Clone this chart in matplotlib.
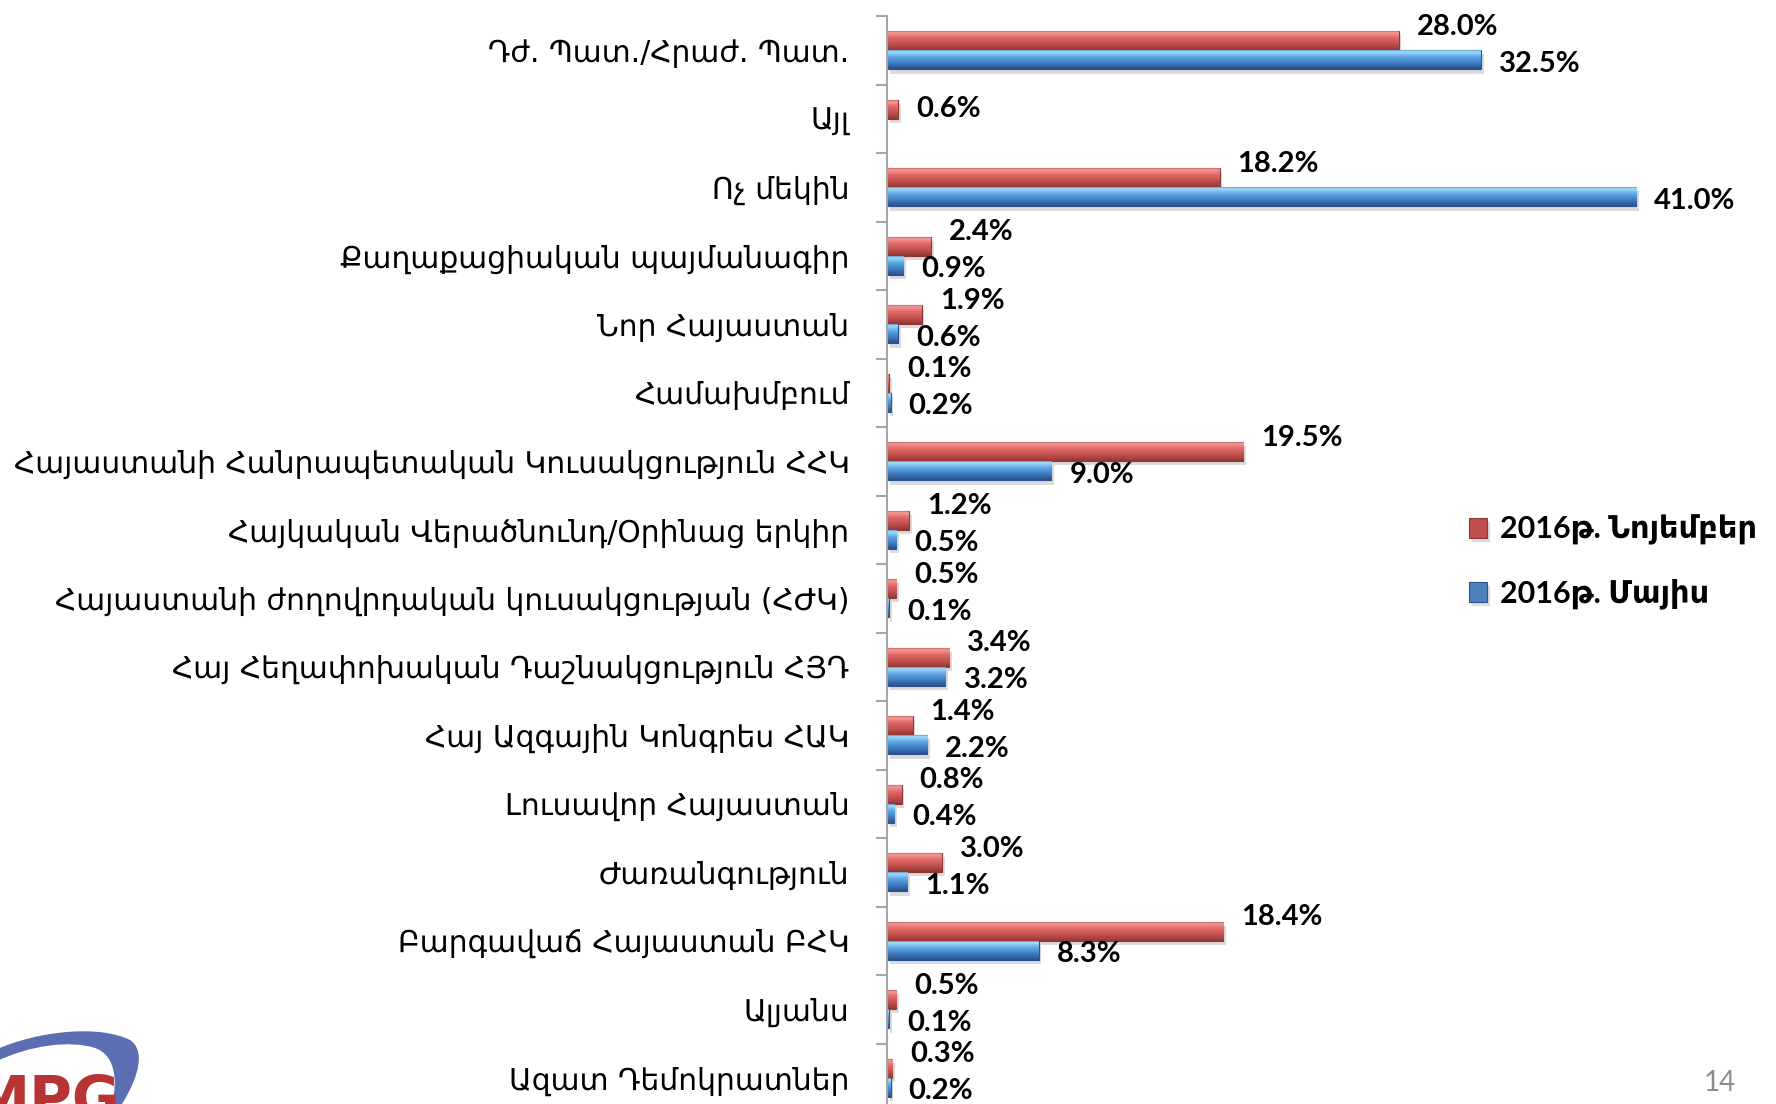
import numpy as np
import matplotlib
matplotlib.use("Agg")
import matplotlib.pyplot as plt
import matplotlib.patheffects as pe
from matplotlib.colors import LinearSegmentedColormap
from matplotlib.patches import PathPatch
from matplotlib.path import Path

# party names, top to bottom
parties = [
    "Դժ. Պատ./Հրաժ. Պատ.",
    "Այլ",
    "Ոչ մեկին",
    "Քաղաքացիական պայմանագիր",
    "Նոր Հայաստան",
    "Համախմբում",
    "Հայաստանի Հանրապետական Կուսակցություն ՀՀԿ",
    "Հայկական Վերածնունդ/Օրինաց երկիր",
    "Հայաստանի ժողովրդական կուսակցության (ՀԺԿ)",
    "Հայ Հեղափոխական Դաշնակցություն ՀՅԴ",
    "Հայ Ազգային Կոնգրես ՀԱԿ",
    "Լուսավոր Հայաստան",
    "Ժառանգություն",
    "Բարգավաճ Հայաստան ԲՀԿ",
    "Ալյանս",
    "Ազատ Դեմոկրատներ",
]
# percent, November 2016 (red) and May 2016 (blue)
nov_2016 = [28.0, 0.6, 18.2, 2.4, 1.9, 0.1, 19.5, 1.2, 0.5, 3.4, 1.4, 0.8, 3.0, 18.4, 0.5, 0.3]
may_2016 = [32.5, np.nan, 41.0, 0.9, 0.6, 0.2, 9.0, 0.5, 0.1, 3.2, 2.2, 0.4, 1.1, 8.3, 0.1, 0.2]
series_names = ["2016թ. Նոյեմբեր", "2016թ. Մայիս"]
page_number = "14"

W, H = 1776, 1104
fig = plt.figure(figsize=(W / 100, H / 100), dpi=100)
ax = fig.add_axes([887 / W, -8 / H, 889 / W, 1096 / H])

y = np.arange(len(parties))
h = 0.28
shadow = [pe.SimplePatchShadow(offset=(2, -3), shadow_rgbFace="#999999", alpha=0.35), pe.Normal()]
red = ax.barh(y - h / 2, nov_2016, height=h, color="#C0504D", edgecolor="#8C3836",
              linewidth=0.8, label=series_names[0], path_effects=shadow)
blue = ax.barh(y + h / 2, may_2016, height=h, color="#4F81BD", edgecolor="#2E5290",
               linewidth=0.8, label=series_names[1], path_effects=shadow)


def shade(bars, stops):
    # fake the glossy 3d look with a vertical gradient clipped to each bar
    cmap = LinearSegmentedColormap.from_list("g", stops)
    grad = np.linspace(0, 1, 64).reshape(-1, 1)
    for p in bars:
        w = p.get_width()
        if not np.isfinite(w) or w <= 0:
            continue
        x0, y0, hh = p.get_x(), p.get_y(), p.get_height()
        im = ax.imshow(grad, cmap=cmap, aspect="auto", origin="lower",
                       extent=(x0, x0 + w, y0, y0 + hh), zorder=1.5,
                       interpolation="bilinear")
        im.set_clip_path(p)


shade(red, [(0, "#A94442"), (0.12, "#F59A98"), (0.4, "#DE6663"), (0.7, "#C0504D"), (1, "#933634")])
shade(blue, [(0, "#3B6EA8"), (0.12, "#A2DCFB"), (0.4, "#5BA6E4"), (0.7, "#3F7CC0"), (1, "#2B4F8C")])

lab = dict(textcoords="offset points", va="center", ha="left", fontsize=21,
           fontweight="bold", family="Lato", color="black")
for p, v, other in zip(red, nov_2016, may_2016):
    # red label sits a bit above its bar, unless the bar is alone in its group
    lift = 0.2 if np.isfinite(other) else 0.0
    ax.annotate(f"{v:.1f}%", xy=(v, p.get_y() + p.get_height() / 2 - lift), xytext=(13, 0), **lab)
for p, v in zip(blue, may_2016):
    if np.isfinite(v):
        ax.annotate(f"{v:.1f}%", xy=(v, p.get_y() + p.get_height() / 2 + 0.06), xytext=(13, 0), **lab)

ax.set_xlim(0, 889 / 18.27)
ax.set_ylim(len(parties) - 0.5, -0.5)
ax.set_yticks(y, parties, fontsize=21.4, family="DejaVu Sans")
ax.set_yticks(np.arange(len(parties) + 1) - 0.5, minor=True)
ax.tick_params(axis="y", which="major", length=0, pad=27)
ax.tick_params(axis="y", which="minor", length=8, width=1.5, color="#A6A6A6")
ax.xaxis.set_visible(False)
for s in ["top", "right", "bottom"]:
    ax.spines[s].set_visible(False)
ax.spines["left"].set_color("#A6A6A6")
ax.spines["left"].set_linewidth(1.5)
ax.set_facecolor("none")

ax.legend(loc="center left", bbox_to_anchor=(1469 / W, 1 - 562 / H), bbox_transform=fig.transFigure,
          frameon=False, prop={"family": ["Lato", "DejaVu Sans"], "weight": "bold", "size": 22},
          handlelength=0.6, handleheight=0.6, handletextpad=0.4, labelspacing=1.1,
          borderpad=0, borderaxespad=0)

fig.text(1720 / W, 1 - 1083 / H, page_number, color="#8C8C8C", fontsize=20,
         ha="center", va="center", family="Lato")


# logo in the lower left corner, cut by the page edge
def px(a, b):
    return (a / W, 1 - b / H)


verts = [px(-5, 1050), px(40, 1030), px(100, 1025), px(130, 1040),
         px(145, 1050), px(140, 1075), px(122, 1104), px(112, 1104),
         px(118, 1080), px(115, 1055), px(95, 1048),
         px(70, 1040), px(30, 1045), px(-5, 1062), px(-5, 1050)]
codes = [Path.MOVETO, Path.CURVE4, Path.CURVE4, Path.CURVE4,
         Path.CURVE4, Path.CURVE4, Path.CURVE4, Path.LINETO,
         Path.CURVE4, Path.CURVE4, Path.CURVE4,
         Path.CURVE4, Path.CURVE4, Path.CURVE4, Path.CLOSEPOLY]
fig.patches.append(PathPatch(Path(verts, codes), transform=fig.transFigure,
                             facecolor="#5B6DB3", edgecolor="none"))
fig.text(-28 / W, 1 - 1118 / H, "MPG", color="#B83434", fontsize=42, fontweight="bold",
         family="DejaVu Sans", ha="left", va="baseline")

fig.savefig("out.png", dpi=100)
